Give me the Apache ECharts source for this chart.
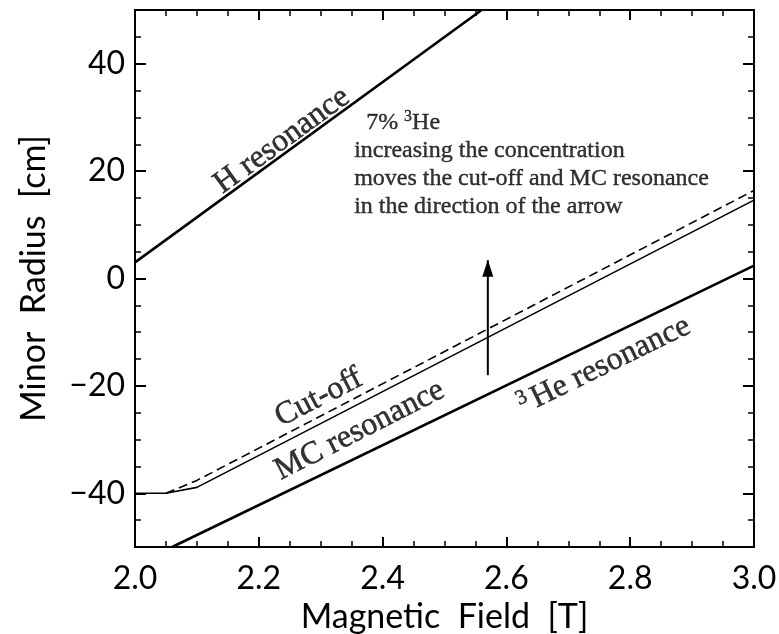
<!DOCTYPE html>
<html>
<head>
<meta charset="utf-8">
<script src="https://cdn.jsdelivr.net/npm/echarts@6/dist/echarts.min.js"></script>
<style>
html, body { margin: 0; padding: 0; background: #fff; }
#chart { width: 779px; height: 634px; }
</style>
</head>
<body>
<div id="chart"></div>
<script>
// curves: magnetic field [T] -> minor radius [cm]
var hResField = [2.0, 2.56];
var hResRadius = [3, 50];
var mcField = [2.0, 2.05, 2.1, 3.0];
var mcRadius = [-40, -40, -38.9, 14.6];
var cutField = [2.05, 2.1, 3.0];
var cutRadius = [-40, -37.6, 16.4];
var heField = [2.06, 3.0];
var heRadius = [-50, 2.4];
var arrowField = [2.57, 2.57];
var arrowRadius = [-18, 3.4];

// tick labels
var radiusTicks = [-40, -20, 0, 20, 40];

// curve labels (anchor in data units, angle in degrees)
var curveLabels = ["H resonance", "Cut-off", "MC resonance", "{s|3}He resonance"];
var curveLabelField = [2.2375, 2.297, 2.363, 2.758];
var curveLabelRadius = [25.7, -22.2, -28.3, -16.2];
var curveLabelAngle = [36, 27, 27, 26];

var noteField = 2.354;
var noteRadius = 31.6;
var noteLines = [
  "  7% {s|3}He",
  "increasing the concentration",
  "moves the cut-off and MC resonance",
  "in the direction of the arrow"
];

function zip(xs, ys) {
  return xs.map(function (x, i) { return [x, ys[i]]; });
}

var serif = "Liberation Serif";
var sans = "Lato";

var chart = echarts.init(document.getElementById("chart"));

var xBase = {
  type: "value",
  min: 2.0,
  max: 3.0,
  interval: 0.2,
  axisLine: { show: true, onZero: false, lineStyle: { color: "#000", width: 2 } },
  axisTick: { show: true, inside: true, length: 10, lineStyle: { color: "#000", width: 2 } },
  minorTick: { show: true, splitNumber: 4, length: 6, lineStyle: { color: "#000", width: 1.5 } },
  splitLine: { show: false }
};

var yShort = {
  type: "value",
  min: -50,
  max: 50,
  interval: 5,
  axisLine: { show: true, onZero: false, lineStyle: { color: "#000", width: 2 } },
  axisTick: { show: true, inside: true, length: 6, lineStyle: { color: "#000", width: 1.5 } },
  axisLabel: { show: false },
  splitLine: { show: false }
};

var yLong = {
  type: "value",
  min: -50,
  max: 50,
  interval: 5,
  axisLine: { show: false },
  axisTick: { show: true, inside: true, length: 11, customValues: radiusTicks, lineStyle: { color: "#000", width: 2 } },
  axisLabel: { show: false },
  splitLine: { show: false }
};

var option = {
  animation: false,
  backgroundColor: "#fff",
  grid: { left: 135, right: 25, top: 10, bottom: 87, containLabel: false, outerBoundsMode: "none" },
  xAxis: [
    Object.assign({}, xBase, {
      position: "bottom",
      name: "Magnetic  Field  [T]",
      nameLocation: "middle",
      nameGap: 51,
      nameTextStyle: { fontFamily: sans, fontSize: 34, color: "#000" },
      axisLabel: {
        show: true,
        margin: 16,
        fontFamily: sans,
        fontSize: 32,
        color: "#000",
        formatter: function (v) { return v.toFixed(1); }
      }
    }),
    Object.assign({}, xBase, { position: "top", axisLabel: { show: false } })
  ],
  yAxis: [
    Object.assign({}, yLong, {
      position: "left",
      name: "Minor  Radius  [cm]",
      nameLocation: "middle",
      nameRotate: 90,
      nameGap: 84,
      nameTextStyle: { fontFamily: sans, fontSize: 34, color: "#000" },
      axisLabel: {
        show: true,
        margin: 10,
        customValues: radiusTicks,
        fontFamily: sans,
        fontSize: 32,
        color: "#000",
        formatter: function (v) { return String(v).replace("-", "\u2212"); }
      }
    }),
    Object.assign({}, yShort, { position: "left" }),
    Object.assign({}, yLong, { position: "right" }),
    Object.assign({}, yShort, { position: "right" })
  ],
  series: [
    {
      name: "H resonance",
      type: "line",
      data: zip(hResField, hResRadius),
      symbol: "none",
      lineStyle: { color: "#000", width: 2.6 }
    },
    {
      name: "MC resonance",
      type: "line",
      data: zip(mcField, mcRadius),
      symbol: "none",
      lineStyle: { color: "#000", width: 1.6 }
    },
    {
      name: "Cut-off",
      type: "line",
      data: zip(cutField, cutRadius),
      symbol: "none",
      lineStyle: { color: "#000", width: 1.6, type: [9, 5] }
    },
    {
      name: "3He resonance",
      type: "line",
      data: zip(heField, heRadius),
      symbol: "none",
      lineStyle: { color: "#000", width: 2.6 }
    },
    {
      name: "arrow",
      type: "line",
      data: zip(arrowField, arrowRadius).map(function (p, i) {
        return i === 0
          ? { value: p, symbol: "none" }
          : { value: p, symbol: "triangle", symbolSize: [11, 17], symbolOffset: [0, 8] };
      }),
      showSymbol: true,
      itemStyle: { color: "#000" },
      lineStyle: { color: "#000", width: 2 }
    },
    {
      name: "curve labels",
      type: "scatter",
      symbolSize: 0,
      data: curveLabels.map(function (t, i) {
        return {
          value: [curveLabelField[i], curveLabelRadius[i]],
          label: { rotate: curveLabelAngle[i] }
        };
      }),
      label: {
        show: true,
        position: "inside",
        align: "center",
        verticalAlign: "middle",
        fontFamily: serif,
        fontSize: 32,
        color: "#000",
        textBorderColor: "#000",
        textBorderWidth: 0.5,
        formatter: function (p) { return curveLabels[p.dataIndex]; },
        rich: {
          s: { fontFamily: serif, fontSize: 21, verticalAlign: "top", padding: [0, 4, 14, 0], color: "#000", textBorderColor: "#000", textBorderWidth: 0.5 }
        }
      },
      z: 5
    },
    {
      name: "note",
      type: "scatter",
      symbolSize: 0,
      data: [[noteField, noteRadius]],
      label: {
        show: true,
        position: "inside",
        align: "left",
        verticalAlign: "top",
        fontFamily: serif,
        fontSize: 24,
        lineHeight: 28,
        color: "#000",
        textBorderColor: "#000",
        textBorderWidth: 0.4,
        formatter: noteLines.join("\n"),
        rich: {
          s: { fontFamily: serif, fontSize: 16, lineHeight: 28, verticalAlign: "top", padding: [0, 0, 10, 0], color: "#000", textBorderColor: "#000", textBorderWidth: 0.4 }
        }
      },
      z: 5
    }
  ]
};

chart.setOption(option);
</script>
</body>
</html>
